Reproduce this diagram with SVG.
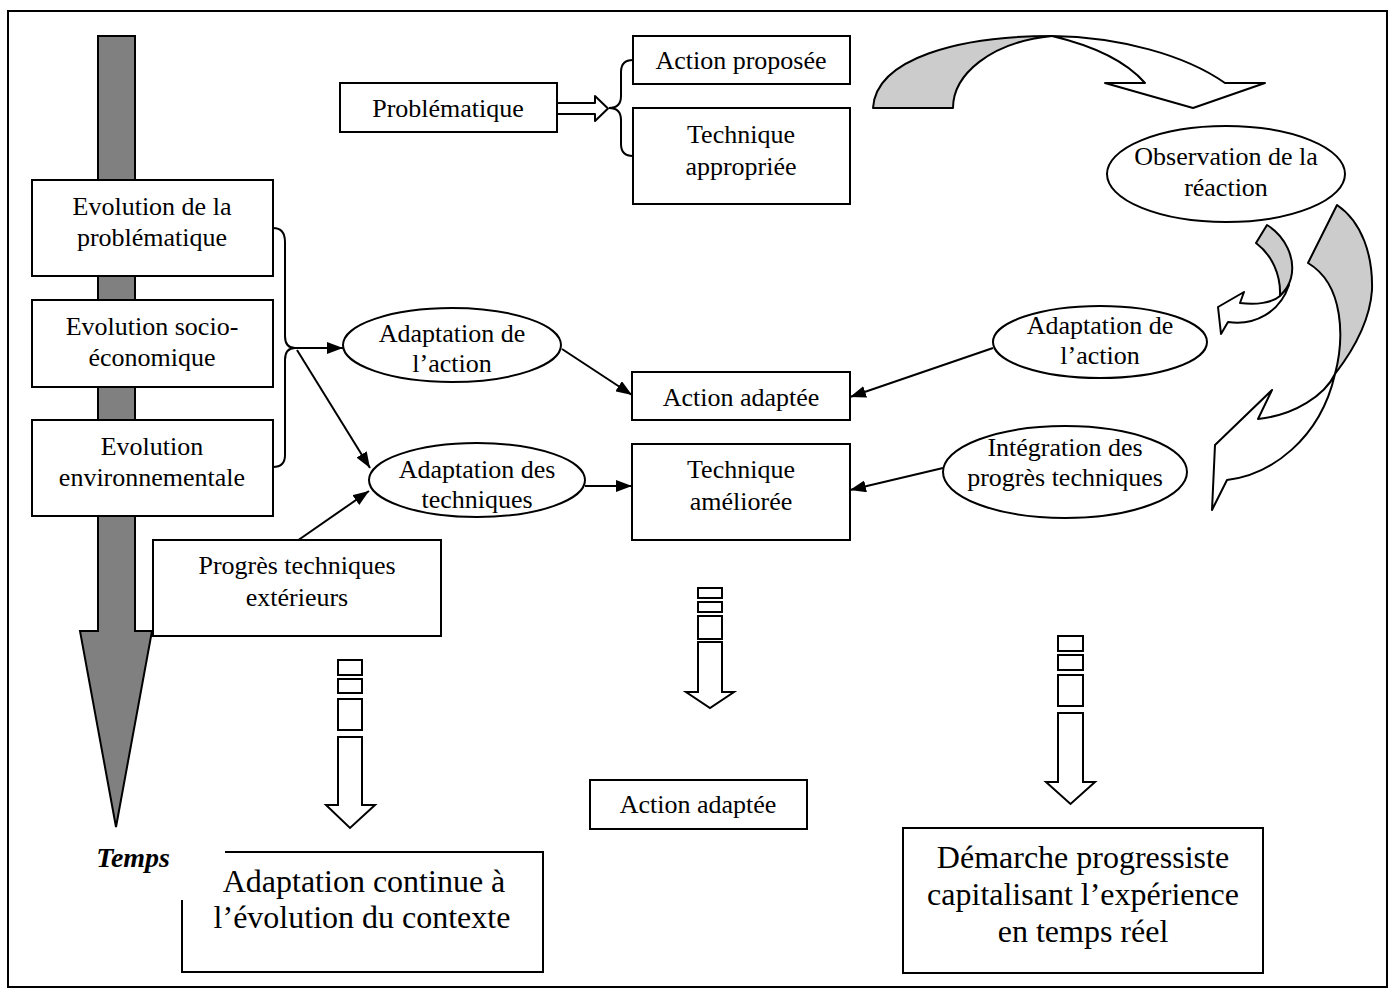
<svg xmlns="http://www.w3.org/2000/svg" width="1393" height="990" viewBox="0 0 1393 990">
<style>
.box{fill:#fff;stroke:#000;stroke-width:2}
.ln{fill:none;stroke:#000;stroke-width:2}
.con{fill:none;stroke:#000;stroke-width:2;marker-end:url(#ah)}
.t{font-family:"Liberation Serif","Times New Roman",serif;font-size:26px;fill:#000;text-anchor:middle}
.big{font-size:32px}
.gray{fill:#cccccc;stroke:#000;stroke-width:2;stroke-linejoin:round}
.wh{fill:#fff;stroke:#000;stroke-width:2;stroke-linejoin:round}
</style>
<defs>
<marker id="ah" markerUnits="userSpaceOnUse" viewBox="0 0 16 12" refX="16" refY="6" markerWidth="16" markerHeight="12" orient="auto">
<path d="M0,0 L16,6 L0,12 Z" fill="#000"/>
</marker>
</defs>
<rect x="0" y="0" width="1393" height="990" fill="#fff"/>
<rect x="8" y="11" width="1379" height="976" fill="none" stroke="#000" stroke-width="2"/>

<g id="time-arrow">
<polygon points="98,36 135,36 135,631 152,631 116,827 80,631 98,631" fill="#808080" stroke="#000" stroke-width="2"/>
</g>

<g id="curved-arrows">
<path class="gray" d="M873,108 C876,58 960,36 1052,36 C990,42 953,75 953,108 Z"/>
<path class="wh" d="M1052,36 C1120,37 1185,55 1225,83 L1265,83 L1193,108 L1105,83 L1145,83 C1125,60 1090,45 1052,36 Z"/>
<path class="gray" d="M1256,243 L1267,225 C1285,236 1296,258 1291,278 C1289,286 1285,291 1280,296 C1281,275 1272,255 1256,243 Z"/>
<path class="wh" d="M1280,296 C1272,303 1256,305 1240,303 L1244,292 L1218,307 L1221,334 L1228,322 C1255,326 1280,312 1289,285 C1286,290 1283,293 1280,296 Z"/>
<path class="gray" d="M1308,263 L1337,205 C1362,222 1373,255 1372,290 C1370,320 1355,348 1335,374 C1344,340 1345,285 1308,263 Z"/>
<path class="wh" d="M1335,374 C1325,395 1295,415 1258,419 L1272,390 L1215,445 L1212,510 L1227,480 C1270,475 1320,440 1335,374 Z"/>
</g>

<g id="connectors">
<path class="ln" d="M273,228 Q285,228 285,242 L285,336 Q285,348 295,348 Q285,348 285,360 L285,455 Q285,467 273,467"/>
<path class="ln" d="M633,60 Q621,60 621,72 L621,96 Q621,108 609,108 Q621,108 621,120 L621,144 Q621,156 633,156"/>
<polygon points="557,103 595,103 595,96 608,108.5 595,121 595,114 557,114" class="wh"/>
<line class="con" x1="294" y1="348" x2="343" y2="348"/>
<line class="con" x1="297" y1="350" x2="370" y2="468"/>
<line class="con" x1="297" y1="541" x2="369" y2="491"/>
<line class="con" x1="562" y1="349" x2="632" y2="395"/>
<line class="con" x1="585" y1="486" x2="632" y2="486"/>
<line class="con" x1="993" y1="348" x2="850" y2="397"/>
<line class="con" x1="943" y1="468" x2="850" y2="490"/>
</g>

<g id="problematique">
<rect class="box" x="340" y="83" width="217" height="49"/>
<text class="t" x="448" y="117">Problématique</text>
</g>
<g id="action-proposee">
<rect class="box" x="633" y="36" width="217" height="48"/>
<text class="t" x="741" y="69">Action proposée</text>
</g>
<g id="technique-appropriee">
<rect class="box" x="633" y="108" width="217" height="96"/>
<text class="t" x="741" y="143">Technique</text>
<text class="t" x="741" y="175">appropriée</text>
</g>
<g id="observation">
<ellipse class="box" cx="1226" cy="174" rx="119" ry="48"/>
<text class="t" x="1226" y="165">Observation de la</text>
<text class="t" x="1226" y="196">réaction</text>
</g>

<g id="evol-problematique">
<rect class="box" x="32" y="180" width="241" height="96"/>
<text class="t" x="152" y="215">Evolution de la</text>
<text class="t" x="152" y="246">problématique</text>
</g>
<g id="evol-socio">
<rect class="box" x="32" y="300" width="241" height="87"/>
<text class="t" x="152" y="335">Evolution socio-</text>
<text class="t" x="152" y="366">économique</text>
</g>
<g id="evol-env">
<rect class="box" x="32" y="420" width="241" height="96"/>
<text class="t" x="152" y="455">Evolution</text>
<text class="t" x="152" y="486">environnementale</text>
</g>

<g id="adaptation-action">
<ellipse class="box" cx="452" cy="345" rx="109" ry="37"/>
<text class="t" x="452" y="342">Adaptation de</text>
<text class="t" x="452" y="372">l’action</text>
</g>
<g id="adaptation-techniques">
<ellipse class="box" cx="477" cy="480" rx="108" ry="37"/>
<text class="t" x="477" y="478">Adaptation des</text>
<text class="t" x="477" y="508">techniques</text>
</g>
<g id="action-adaptee">
<rect class="box" x="632" y="372" width="218" height="48"/>
<text class="t" x="741" y="406">Action adaptée</text>
</g>
<g id="technique-amelioree">
<rect class="box" x="632" y="444" width="218" height="96"/>
<text class="t" x="741" y="478">Technique</text>
<text class="t" x="741" y="510">améliorée</text>
</g>
<g id="adaptation-action-2">
<ellipse class="box" cx="1100" cy="342" rx="107" ry="36"/>
<text class="t" x="1100" y="334">Adaptation de</text>
<text class="t" x="1100" y="364">l’action</text>
</g>
<g id="integration">
<ellipse class="box" cx="1065" cy="472" rx="122" ry="46"/>
<text class="t" x="1065" y="456">Intégration des</text>
<text class="t" x="1065" y="486">progrès techniques</text>
</g>
<g id="progres-exterieurs">
<rect class="box" x="153" y="540" width="288" height="96"/>
<text class="t" x="297" y="574">Progrès techniques</text>
<text class="t" x="297" y="606">extérieurs</text>
</g>

<g id="striped-1">
<rect class="box" x="338" y="660" width="24" height="15"/>
<rect class="box" x="338" y="679" width="24" height="14"/>
<rect class="box" x="338" y="699" width="24" height="31"/>
<polygon class="box" points="338,737 362,737 362,805 375,805 350,828 326,805 338,805"/>
</g>
<g id="striped-2">
<rect class="box" x="698" y="588" width="24" height="10"/>
<rect class="box" x="698" y="602" width="24" height="10"/>
<rect class="box" x="698" y="616" width="24" height="23"/>
<polygon class="box" points="698,642 722,642 722,692 734,692 710,708 686,692 698,692"/>
</g>
<g id="striped-3">
<rect class="box" x="1058" y="636" width="25" height="15"/>
<rect class="box" x="1058" y="655" width="25" height="15"/>
<rect class="box" x="1058" y="675" width="25" height="31"/>
<polygon class="box" points="1058,713 1083,713 1083,782 1095,782 1070.5,804 1046,782 1058,782"/>
</g>

<g id="action-adaptee-2">
<rect class="box" x="590" y="780" width="217" height="49"/>
<text class="t" x="698" y="813">Action adaptée</text>
</g>
<g id="adaptation-continue">
<rect class="box" x="182" y="852" width="361" height="120"/>
<rect x="172" y="840" width="53" height="60" fill="#fff"/>
<text class="t big" x="364" y="892">Adaptation continue à</text>
<text class="t big" x="362" y="928">l’évolution du contexte</text>
</g>
<g id="demarche">
<rect class="box" x="903" y="828" width="360" height="145"/>
<text class="t big" x="1083" y="868">Démarche progressiste</text>
<text class="t big" x="1083" y="905">capitalisant l’expérience</text>
<text class="t big" x="1083" y="942">en temps réel</text>
</g>
<g id="temps-label">
<text class="t" x="170" y="867" style="text-anchor:end;font-weight:bold;font-style:italic;font-size:28px">Temps</text>
</g>
</svg>
